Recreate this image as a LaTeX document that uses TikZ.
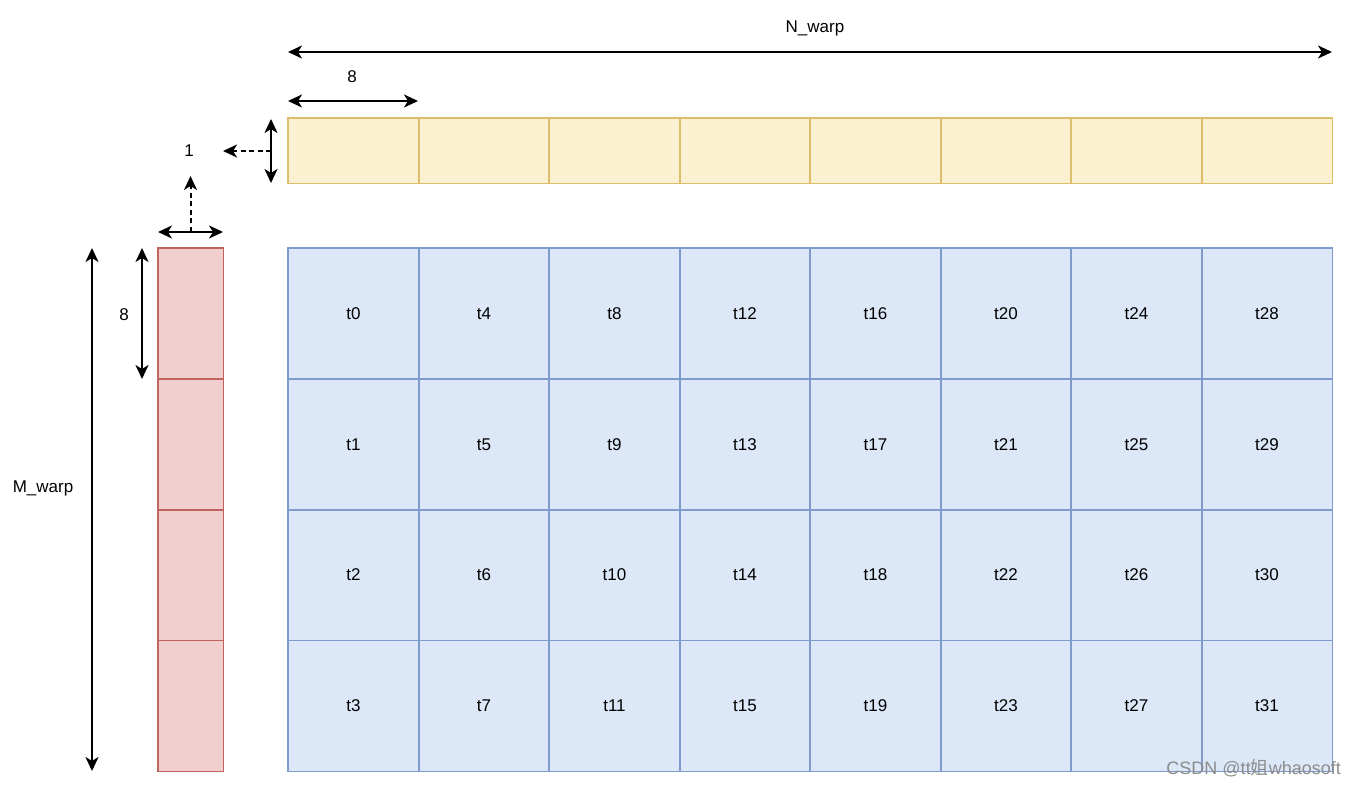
\documentclass[tikz,border=0pt]{standalone}
\usepackage{fontspec}
\setmainfont{Liberation Sans}
\newfontfamily\cjkfont{Noto Sans CJK SC}
\usetikzlibrary{arrows.meta}
\definecolor{yfill}{HTML}{FBF0D0}
\definecolor{ydraw}{HTML}{DDBE6C}
\definecolor{bfill}{HTML}{DCE7F8}
\definecolor{bdraw}{HTML}{7E9BCB}
\definecolor{rfill}{HTML}{F1CFCE}
\definecolor{rdraw}{HTML}{C0625E}
\tikzset{
  cellb/.style={fill=bfill,minimum width=130.5pt,minimum height=130.75pt,inner sep=0pt,font=\fontsize{17}{20}\selectfont},
  celly/.style={fill=yfill,minimum width=130.5pt,minimum height=65pt,inner sep=0pt},
  cellr/.style={fill=rfill,minimum width=65pt,minimum height=130.75pt,inner sep=0pt},
  edge/.style={line width=1.5pt},
  dim/.style={line width=2pt,{Stealth[length=14pt,width=13pt,inset=4pt]}-{Stealth[length=14pt,width=13pt,inset=4pt]}},
  dashdim/.style={line width=2pt,dash pattern=on 5pt off 3.5pt,-{Stealth[length=14pt,width=13pt,inset=4pt]}},
  lbl/.style={font=\fontsize{17}{20}\selectfont,inner sep=0pt}
}
\begin{document}
\begin{tikzpicture}[x=1pt,y=-1pt]
\useasboundingbox[fill=white] (0,0) rectangle (1356,786);
% yellow row
\foreach \c in {0,...,7}{
  \node[celly,anchor=north west] (y\c) at ({288+130.5*\c},118) {};
}
\foreach \c in {0,...,7}{
  \draw[edge,draw=ydraw] (y\c.north west) rectangle (y\c.south east);
}
% red column
\foreach \r in {0,...,3}{
  \node[cellr,anchor=north west] (r\r) at (158,{248+130.75*\r}) {};
}
\foreach \r in {0,...,3}{
  \draw[edge,draw=rdraw] (r\r.north west) rectangle (r\r.south east);
}
% blue grid
\foreach \r in {0,...,3}{
  \foreach \c in {0,...,7}{
    \pgfmathtruncatemacro{\t}{4*\c+\r}
    \node[cellb,anchor=north west] (b\r\c) at ({288+130.5*\c},{248+130.75*\r}) {t\t};
  }
}
\foreach \r in {0,...,3}{
  \foreach \c in {0,...,7}{
    \draw[edge,draw=bdraw] (b\r\c.north west) rectangle (b\r\c.south east);
  }
}
% N_warp
\coordinate (nw1) at (288,52);
\coordinate (nw2) at (1332,52);
\draw[dim] (nw1) -- (nw2);
\node[lbl] (nwl) at (815,28) {N\_warp};
% 8 horizontal
\coordinate (e1) at (288,101);
\coordinate (e2) at (418,101);
\draw[dim] (e1) -- (e2);
\node[lbl] (el) at (352,77) {8};
% 1 vertical (yellow height)
\coordinate (v1) at (271,119);
\coordinate (v2) at (271,183);
\coordinate (vm) at (271,151);
\draw[dim] (v1) -- (v2);
\node[lbl] (one) at (189,151) {1};
\coordinate (oner) at (223,151);
\draw[dashdim] (vm) -- (oner);
% red width
\coordinate (h1) at (158,232);
\coordinate (h2) at (223,232);
\coordinate (hm) at (190.5,232);
\draw[dim] (h1) -- (h2);
\coordinate (oneb) at (190.5,176);
\draw[dashdim] (hm) -- (oneb);
% M_warp
\coordinate (m1) at (92,248);
\coordinate (m2) at (92,771);
\draw[dim] (m1) -- (m2);
\node[lbl] (ml) at (43,488) {M\_warp};
% 8 vertical
\coordinate (s1) at (142,248);
\coordinate (s2) at (142,379);
\draw[dim] (s1) -- (s2);
\node[lbl] (sl) at (124,315) {8};
% watermark
\node[font=\fontsize{18}{21}\selectfont,text=black!45,anchor=east,inner sep=0pt] (wm) at (1341,768) {CSDN @tt{\cjkfont 姐}whaosoft};
\end{tikzpicture}
\end{document}
